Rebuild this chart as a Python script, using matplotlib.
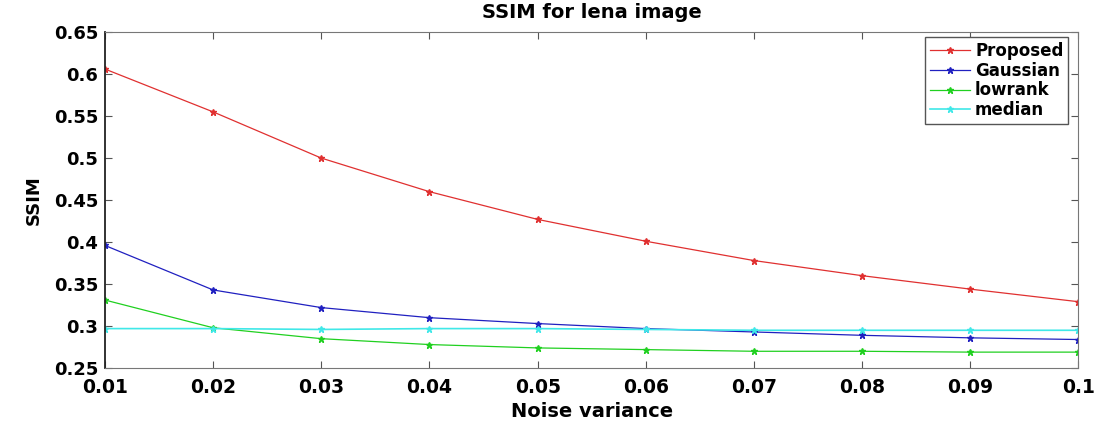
import matplotlib
matplotlib.use("Agg")
import matplotlib.pyplot as plt

plt.rcParams['font.family'] = ['DejaVu Sans']
plt.rcParams['font.weight'] = 'bold'

# values
noise_var = [0.01, 0.02, 0.03, 0.04, 0.05, 0.06, 0.07, 0.08, 0.09, 0.1]
proposed = [0.606, 0.555, 0.500, 0.460, 0.427, 0.401, 0.378, 0.360, 0.344, 0.329]
gaussian = [0.396, 0.343, 0.322, 0.310, 0.303, 0.297, 0.293, 0.289, 0.286, 0.284]
lowrank = [0.331, 0.298, 0.285, 0.278, 0.274, 0.272, 0.270, 0.270, 0.269, 0.269]
median = [0.297, 0.297, 0.296, 0.297, 0.297, 0.296, 0.295, 0.295, 0.295, 0.295]

x_ticks = [0.01, 0.02, 0.03, 0.04, 0.05, 0.06, 0.07, 0.08, 0.09, 0.1]
x_labels = ["0.01", "0.02", "0.03", "0.04", "0.05", "0.06", "0.07", "0.08", "0.09", "0.1"]
y_ticks = [0.25, 0.3, 0.35, 0.4, 0.45, 0.5, 0.55, 0.6, 0.65]
y_labels = ["0.25", "0.3", "0.35", "0.4", "0.45", "0.5", "0.55", "0.6", "0.65"]

fig, ax = plt.subplots(figsize=(11.05, 4.28), dpi=100)
fig.subplots_adjust(left=0.095, right=0.976, top=0.925, bottom=0.14)

ax.plot(noise_var, proposed, color="#e03030", marker="*", ms=5, lw=0.9, label="Proposed")
ax.plot(noise_var, gaussian, color="#2020c0", marker="*", ms=5, lw=0.9, label="Gaussian")
ax.plot(noise_var, lowrank, color="#20d020", marker="*", ms=5, lw=0.9, label="lowrank")
ax.plot(noise_var, median, color="#40e8e8", marker="*", ms=5, lw=1.2, label="median")

ax.set_xlim(0.01, 0.1)
ax.set_ylim(0.25, 0.65)
ax.set_xticks(x_ticks)
ax.set_xticklabels(x_labels, fontsize=13.5, fontweight="bold")
ax.set_yticks(y_ticks)
ax.set_yticklabels(y_labels, fontsize=13, fontweight="bold")
ax.tick_params(direction="in", top=True, right=True, length=5, color="#555555")
ax.tick_params(axis="x", pad=7)
ax.tick_params(axis="y", pad=5)
for s in ax.spines.values():
    s.set_color("#777777")
ax.spines["left"].set_color("#222222")
ax.spines["left"].set_linewidth(1.3)

ax.set_xlabel("Noise variance", fontsize=14, fontweight="bold", labelpad=4)
ax.set_ylabel("SSIM", fontsize=13, fontweight="bold", labelpad=8)
ax.set_title("SSIM for lena image", fontsize=14, fontweight="bold", pad=10)

leg = ax.legend(loc="upper right", fontsize=12, handlelength=2.4, handletextpad=0.3,
                borderpad=0.3, labelspacing=0.1, fancybox=False, framealpha=1,
                borderaxespad=0, bbox_to_anchor=(0.9897, 0.985))
leg.get_frame().set_edgecolor("#555555")
for t in leg.get_texts():
    t.set_fontweight("bold")

plt.savefig("out.png")
